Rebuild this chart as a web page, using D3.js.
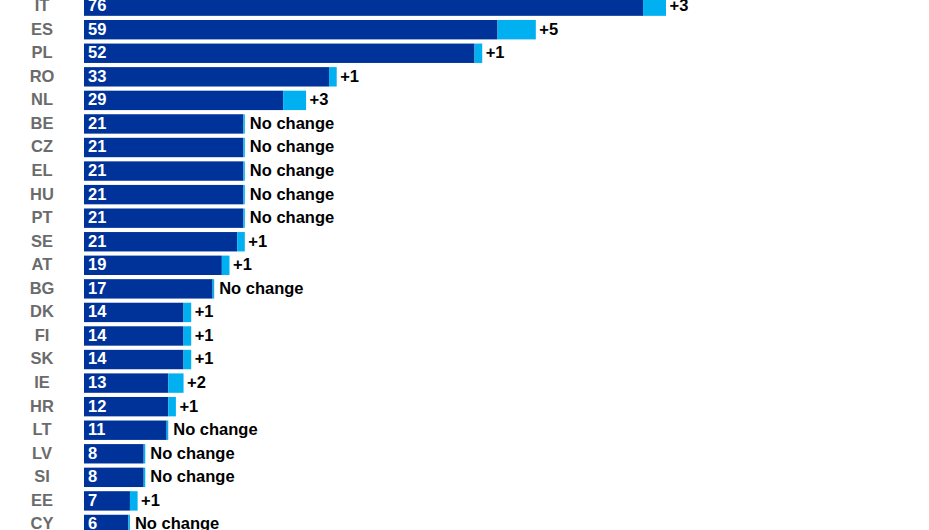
<!DOCTYPE html>
<html>
<head>
<meta charset="utf-8">
<script src="https://cdn.jsdelivr.net/npm/d3@7"></script>
<style>
  html, body { margin: 0; padding: 0; background: #fff; overflow: hidden; }
  svg { display: block; font-family: "Liberation Sans", Arial, sans-serif; font-weight: bold; }
</style>
</head>
<body>
<svg id="chart" width="929" height="530"></svg>
<script>
const countries = ["IT","ES","PL","RO","NL","BE","CZ","EL","HU","PT","SE","AT","BG","DK","FI","SK","IE","HR","LT","LV","SI","EE","CY"];
const totals    = [76, 59, 52, 33, 29, 21, 21, 21, 21, 21, 21, 19, 17, 14, 14, 14, 13, 12, 11, 8, 8, 7, 6];
const changes   = [3, 5, 1, 1, 3, 0, 0, 0, 0, 0, 1, 1, 0, 1, 1, 1, 2, 1, 0, 0, 0, 1, 0];
const noChangeLabel = "No change";

const rows = countries.map((c, i) => ({ c, total: totals[i], change: changes[i] }));

const svg = d3.select("#chart");
const x = d3.scaleLinear().domain([0, 76]).range([84, 666]);
const pad = 0.1766;
const y = d3.scaleBand().domain(countries).range([-5.64, 536.24]).paddingInner(pad).paddingOuter(pad / 2);

const dark = "#003399", light = "#00B0F0";
const minLine = 1.6;
const fs = "16.5px";

const g = svg.append("g");
const row = g.selectAll("g.row").data(rows).join("g").attr("class", "row")
  .attr("transform", d => `translate(0,${y(d.c)})`);

const cw = d => d.change > 0 ? x(d.change) - x(0) : minLine;

row.append("rect")
  .attr("x", x(0))
  .attr("y", 0)
  .attr("height", y.bandwidth())
  .attr("width", d => x(d.total) - x(0) - cw(d))
  .attr("fill", dark);

row.append("rect")
  .attr("x", d => x(d.total) - cw(d))
  .attr("y", 0)
  .attr("height", y.bandwidth())
  .attr("width", d => cw(d))
  .attr("fill", light);

row.append("text")
  .attr("x", 42)
  .attr("y", y.bandwidth() / 2)
  .attr("dy", "0.3em")
  .attr("text-anchor", "middle")
  .attr("fill", "#6b6b6b")
  .style("font-size", fs)
  .text(d => d.c);

row.append("text")
  .attr("x", x(0) + 4)
  .attr("y", y.bandwidth() / 2)
  .attr("dy", "0.3em")
  .attr("fill", "#fff")
  .style("font-size", fs)
  .text(d => d.total);

row.append("text")
  .attr("x", d => x(d.total) + (d.change > 0 ? 3.5 : 5))
  .attr("y", y.bandwidth() / 2)
  .attr("dy", "0.3em")
  .attr("fill", "#000")
  .style("font-size", fs)
  .text(d => d.change > 0 ? "+" + d.change : noChangeLabel);
</script>
</body>
</html>
